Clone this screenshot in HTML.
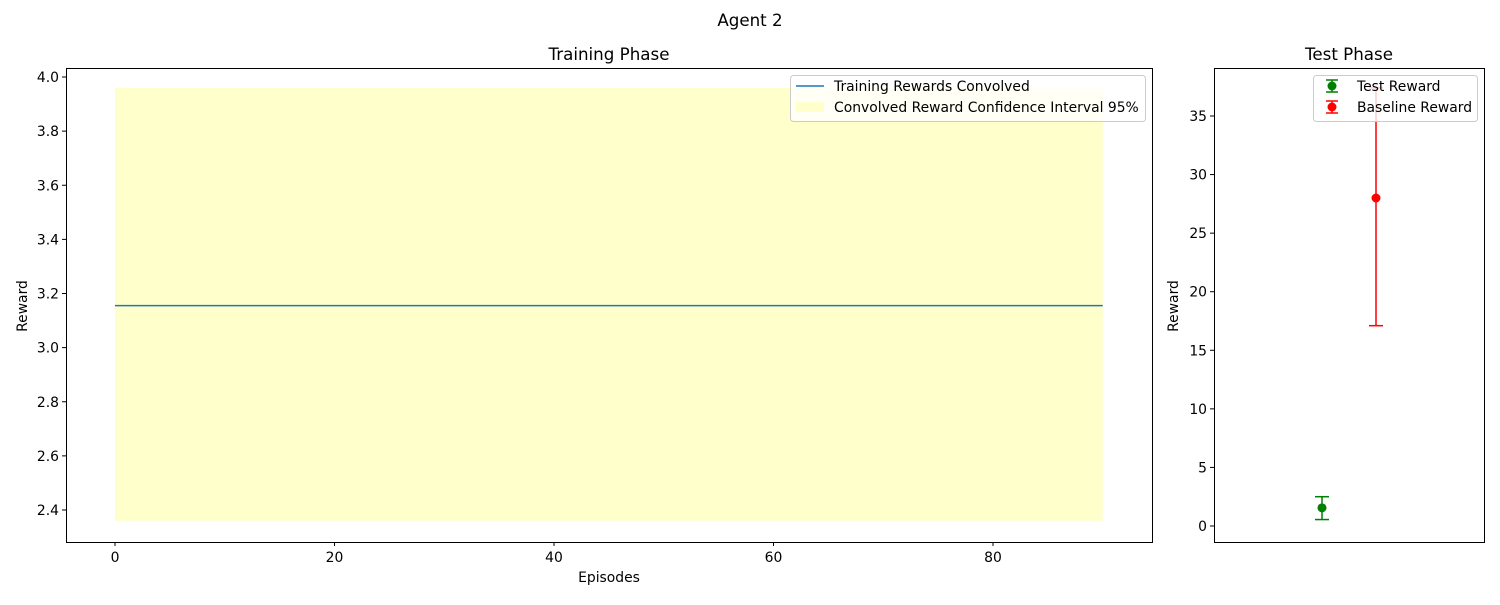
<!DOCTYPE html>
<html><head><meta charset="utf-8"><style>
body{margin:0;background:#fff;font-family:"Liberation Sans","DejaVu Sans",sans-serif;}
svg text{font-family:"DejaVu Sans","Liberation Sans",sans-serif;fill:#000;}
</style></head><body>
<svg id="chart" width="1500" height="600" xmlns="http://www.w3.org/2000/svg">
<text x="750" y="26" font-size="16.7" text-anchor="middle">Agent 2</text>
<g id="left"></g>
<g id="right"></g>
</svg>
<script>
const episodes=[0,90];
const rewardLine=[3.155,3.155];
const ciLow=[2.36,2.36];
const ciHigh=[3.96,3.96];
const xTicks=[0,20,40,60,80];
const yTicks=[2.4,2.6,2.8,3.0,3.2,3.4,3.6,3.8,4.0];
const testLabels=["Test Reward","Baseline Reward"];
const testMeans=[1.55,28.0];
const testLow=[0.55,17.1];
const testHigh=[2.5,37.4];
const testYTicks=[0,5,10,15,20,25,30,35];
const NS="http://www.w3.org/2000/svg";
const FS=13.9;
function mk(p,t,a,txt){const e=document.createElementNS(NS,t);for(const k in a)e.setAttribute(k,a[k]);if(txt!=null)e.textContent=txt;p.appendChild(e);return e;}
const L=document.getElementById('left');
const lx=v=>115+(v-0)*(993-115)/80;
const ly=v=>510-(v-2.4)*(510-77)/1.6;
let e=mk(L,'rect',{x:lx(episodes[0]),y:ly(ciHigh[0]),width:lx(episodes[1])-lx(episodes[0]),height:ly(ciLow[0])-ly(ciHigh[0]),fill:'#ffffcc'});


e=mk(L,'polyline',{points:episodes.map((x,i)=>lx(x)+','+ly(rewardLine[i])).join(' '),fill:'none',stroke:'#1f77b4','stroke-width':1.5});


mk(L,'rect',{x:66.5,y:68.5,width:1086,height:474,fill:'none',stroke:'#000','stroke-width':1});
xTicks.forEach(t=>{mk(L,'line',{x1:lx(t),x2:lx(t),y1:542,y2:546,stroke:'#000'});
 const tx=mk(L,'text',{x:lx(t),y:562,'font-size':FS,'text-anchor':'middle'},String(t));
 
 });
yTicks.forEach(t=>{mk(L,'line',{x1:62,x2:66,y1:ly(t),y2:ly(t),stroke:'#000'});
 const tx=mk(L,'text',{x:59,y:ly(t)+5,'font-size':FS,'text-anchor':'end'},t.toFixed(1));
 
 });
mk(L,'text',{x:609,y:60,'font-size':16.7,'text-anchor':'middle',},'Training Phase');
mk(L,'text',{x:609,y:582,'font-size':FS,'text-anchor':'middle',},'Episodes');
mk(L,'text',{x:27,y:306,'font-size':FS,'text-anchor':'middle',transform:'rotate(-90 27 306)',},'Reward');
const lg=mk(L,'g',{});
mk(lg,'rect',{x:790.5,y:75.5,width:355,height:46,rx:3,fill:'#fff','fill-opacity':0.8,stroke:'#ccc'});
mk(lg,'line',{x1:796,x2:824,y1:86,y2:86,stroke:'#1f77b4','stroke-width':1.5});
mk(lg,'text',{x:834,y:91,'font-size':FS},'Training Rewards Convolved');
mk(lg,'rect',{x:796,y:102,width:28,height:10,fill:'#ffffcc'});
mk(lg,'text',{x:834,y:112,'font-size':FS},'Convolved Reward Confidence Interval 95%');
const R=document.getElementById('right');
const rx=i=>1322+i*54;
const ry=v=>526-v*(526-116)/35;
mk(R,'rect',{x:1214.5,y:68.5,width:270,height:474,fill:'none',stroke:'#000'});
testYTicks.forEach(t=>{mk(R,'line',{x1:1210,x2:1214,y1:ry(t),y2:ry(t),stroke:'#000'});
 const tx=mk(R,'text',{x:1207,y:ry(t)+5,'font-size':FS,'text-anchor':'end'},String(t));
 
 });
const cols=['green','red'];
testMeans.forEach((m,i)=>{const g=mk(R,'g',{});
 
 
 mk(g,'line',{x1:rx(i),x2:rx(i),y1:ry(testLow[i]),y2:ry(testHigh[i]),stroke:cols[i],'stroke-width':1.5});
 mk(g,'line',{x1:rx(i)-7,x2:rx(i)+7,y1:ry(testLow[i]),y2:ry(testLow[i]),stroke:cols[i],'stroke-width':1.5});
 mk(g,'line',{x1:rx(i)-7,x2:rx(i)+7,y1:ry(testHigh[i]),y2:ry(testHigh[i]),stroke:cols[i],'stroke-width':1.5});
 mk(g,'circle',{cx:rx(i),cy:ry(m),r:4.5,fill:cols[i]});});
mk(R,'text',{x:1349,y:60,'font-size':16.7,'text-anchor':'middle',},'Test Phase');
mk(R,'text',{x:1178,y:306,'font-size':FS,'text-anchor':'middle',transform:'rotate(-90 1178 306)',},'Reward');
const lg2=mk(R,'g',{});
mk(lg2,'rect',{x:1313.5,y:75.5,width:164,height:46,rx:3,fill:'#fff','fill-opacity':0.8,stroke:'#ccc'});
testLabels.forEach((lab,i)=>{const y=86+i*21;
 mk(lg2,'line',{x1:1332,x2:1332,y1:y-6,y2:y+6,stroke:cols[i],'stroke-width':1.5});
 mk(lg2,'line',{x1:1326,x2:1338,y1:y-6,y2:y-6,stroke:cols[i],'stroke-width':1.5});
 mk(lg2,'line',{x1:1326,x2:1338,y1:y+6,y2:y+6,stroke:cols[i],'stroke-width':1.5});
 mk(lg2,'circle',{cx:1332,cy:y,r:4.5,fill:cols[i]});
 mk(lg2,'text',{x:1357,y:y+5,'font-size':FS},lab);});
</script>
</body></html>
